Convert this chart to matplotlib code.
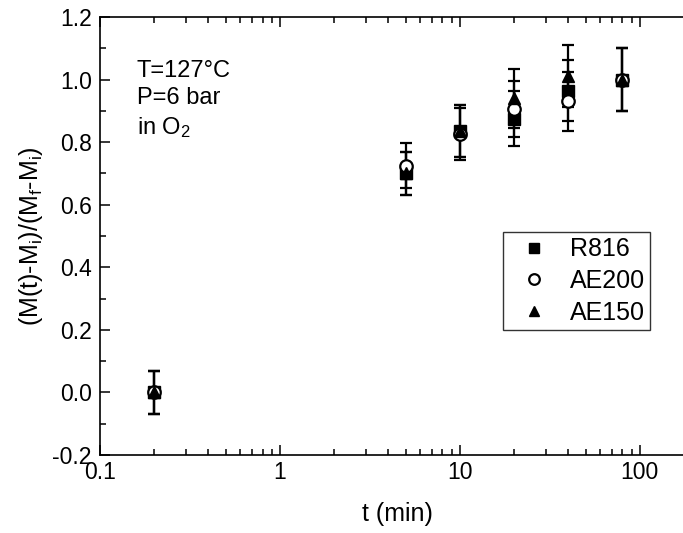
import matplotlib
matplotlib.use("Agg")
import matplotlib.pyplot as plt
from matplotlib.ticker import LogLocator, FixedLocator, MultipleLocator, FuncFormatter

plt.rcParams['font.family'] = ['Liberation Sans', 'DejaVu Sans']
plt.rcParams['mathtext.fontset'] = 'custom'
plt.rcParams['mathtext.rm'] = 'Liberation Sans'
plt.rcParams['mathtext.it'] = 'Liberation Sans'

# oxidation time (min)
t = [0.2, 5, 10, 20, 40, 80]

# normalized mass change for each sample
r816 = [0.0, 0.70, 0.835, 0.875, 0.965, 1.0]
ae200 = [0.0, 0.725, 0.827, 0.905, 0.93, 1.0]
ae150 = [0.0, 0.70, 0.835, 0.94, 1.012, 1.0]

# error bar half-widths
r816_err = [0.07, 0.07, 0.083, 0.088, 0.097, 0.10]
ae200_err = [0.07, 0.0725, 0.083, 0.09, 0.093, 0.10]
ae150_err = [0.07, 0.07, 0.083, 0.094, 0.10, 0.10]

labels = ["R816", "AE200", "AE150"]

fig = plt.figure(figsize=(6.83, 5.33), dpi=100)
ax = fig.add_axes([100 / 683, 1 - 455 / 533, 594 / 683, 438 / 533])

common = dict(color='black', ecolor='black', elinewidth=1.6, capsize=4.5,
              capthick=1.6, linestyle='none', markersize=9)
c1 = ax.errorbar(t, r816, yerr=r816_err, marker='s', mfc='black', mec='black',
                 **common)
c2 = ax.errorbar(t, ae200, yerr=ae200_err, marker='o', mfc='white', mec='black',
                 mew=1.6, **common)
c3 = ax.errorbar(t, ae150, yerr=ae150_err, marker='^', mfc='black', mec='black',
                 **common)

ax.set_xscale('log')
ax.set_xlim(0.1, 200)
ax.set_ylim(-0.2, 1.2)

ax.xaxis.set_major_locator(FixedLocator([0.1, 1, 10, 100]))
ax.xaxis.set_minor_locator(LogLocator(base=10, subs=range(2, 10)))
ax.xaxis.set_major_formatter(FuncFormatter(lambda v, p: f"{v:g}"))
ax.xaxis.set_minor_formatter(FuncFormatter(lambda v, p: ""))
ax.yaxis.set_major_locator(MultipleLocator(0.2))
ax.yaxis.set_minor_locator(MultipleLocator(0.1))
ax.yaxis.set_major_formatter(FuncFormatter(lambda v, p: f"{v:.1f}"))

ax.tick_params(which='both', direction='in', top=True, right=False,
               labelsize=16.5, width=1.1)
ax.tick_params(axis='y', pad=6)
ax.tick_params(axis='x', pad=4)
ax.tick_params(which='major', length=7)
ax.tick_params(which='minor', length=4)
for s in ax.spines.values():
    s.set_linewidth(1.2)

ax.set_xlabel("t (min)", fontsize=18, labelpad=13)
ax.set_ylabel(r"(M(t)-M$_\mathregular{i}$)/(M$_\mathregular{f}$-M$_\mathregular{i}$)",
              fontsize=18, labelpad=5)

ax.text(0.16, 0.935, "T=127°C\nP=6 bar\nin O$_\\mathregular{2}$", fontsize=17,
        va='center', ha='left', linespacing=1.3)

leg = ax.legend([c1[0], c2[0], c3[0]], labels, loc='upper left',
                bbox_to_anchor=(403 / 594, 1 - 215 / 438),
                fontsize=18, frameon=True, fancybox=False, edgecolor='black',
                handlelength=2.0, handletextpad=0.45, borderpad=0.22,
                labelspacing=0.3, borderaxespad=0, markerscale=0.85)
leg.get_frame().set_linewidth(1.0)

fig.savefig("out.png", dpi=100)
